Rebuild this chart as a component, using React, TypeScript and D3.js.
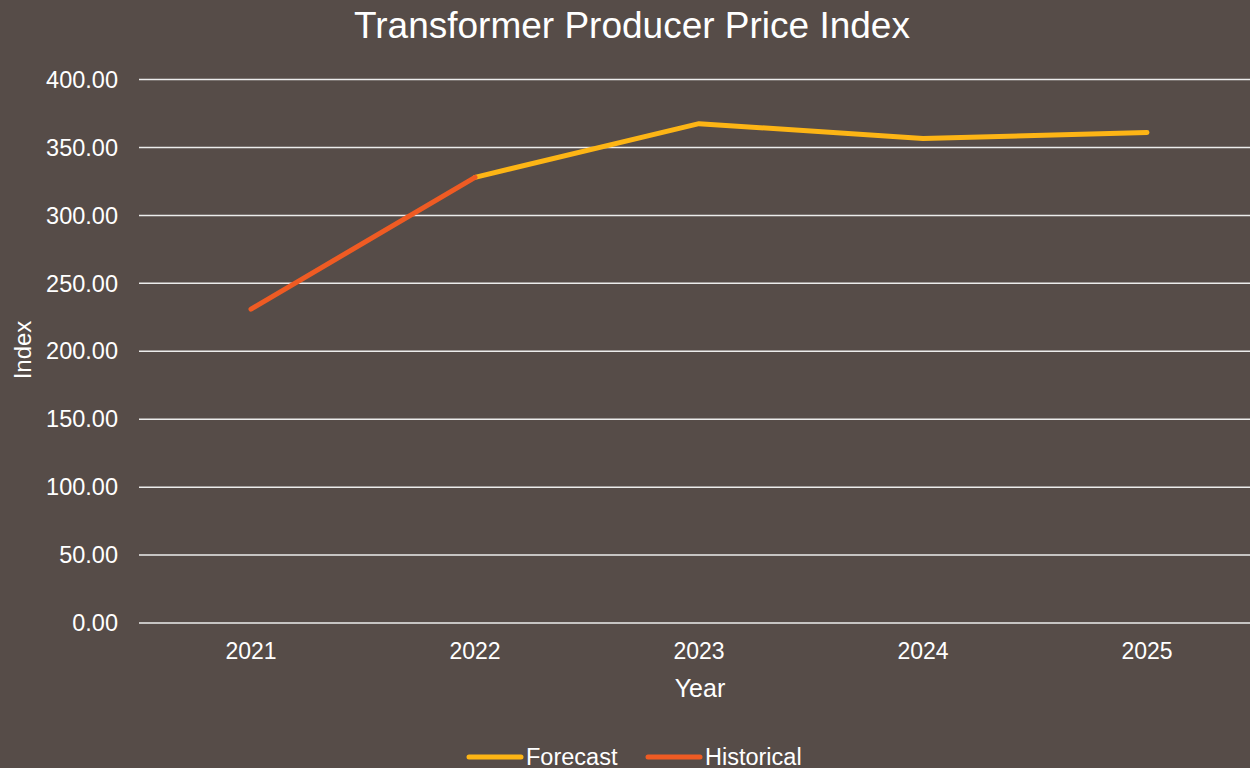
import React, { useEffect, useRef } from 'react';
import * as d3 from 'd3';

const years = ['2021', '2022', '2023', '2024', '2025'];
const historicalYears = ['2021', '2022'];
const historicalValues = [231, 328];
const forecastYears = ['2022', '2023', '2024', '2025'];
const forecastValues = [328, 367.5, 356.5, 361];
const yTicks = [0, 50, 100, 150, 200, 250, 300, 350, 400];

const width = 1250;
const height = 768;
const bg = '#564C48';
const forecastColor = '#FDB515';
const historicalColor = '#EF5B23';
const font = '"Liberation Sans", Arial, sans-serif';

function App() {
  const svgRef = useRef<SVGSVGElement>(null);

  useEffect(() => {
    if (!svgRef.current) return;
    const svg = d3.select(svgRef.current);
    svg.selectAll('*').remove();

    const x = d3.scaleBand().domain(years).range([139, 1259]);
    const y = d3.scaleLinear().domain([0, 400]).range([623, 79.5]);
    const cx = (d: string) => (x(d) as number) + x.bandwidth() / 2;

    svg.append('rect').attr('width', width).attr('height', height).attr('fill', bg);

    // title
    svg.append('text')
      .attr('x', 632).attr('y', 38)
      .attr('text-anchor', 'middle')
      .style('font', `37px ${font}`)
      .attr('fill', '#fff')
      .text('Transformer Producer Price Index');

    // gridlines + y labels
    const grid = svg.append('g');
    grid.selectAll('line')
      .data(yTicks)
      .join('line')
      .attr('x1', 139).attr('x2', width)
      .attr('y1', d => y(d)).attr('y2', d => y(d))
      .attr('stroke', '#ececec')
      .attr('stroke-width', 1.5);
    grid.selectAll('text')
      .data(yTicks)
      .join('text')
      .attr('x', 118).attr('y', d => y(d))
      .attr('dy', '0.35em')
      .attr('text-anchor', 'end')
      .style('font', `23.5px ${font}`)
      .attr('fill', '#fff')
      .text(d => d3.format('.2f')(d));

    // x labels
    svg.append('g').selectAll('text')
      .data(years)
      .join('text')
      .attr('x', d => cx(d)).attr('y', 659)
      .attr('text-anchor', 'middle')
      .style('font', `23px ${font}`)
      .attr('fill', '#fff')
      .text(d => d);

    svg.append('text')
      .attr('x', 700).attr('y', 697)
      .attr('text-anchor', 'middle')
      .style('font', `25px ${font}`)
      .attr('fill', '#fff')
      .text('Year');

    svg.append('text')
      .attr('transform', 'translate(31,350) rotate(-90)')
      .attr('text-anchor', 'middle')
      .style('font', `24px ${font}`)
      .attr('fill', '#fff')
      .text('Index');

    const line = d3.line<[string, number]>()
      .x(d => cx(d[0]))
      .y(d => y(d[1]));

    svg.append('path')
      .datum(d3.zip(forecastYears, forecastValues) as [string, number][])
      .attr('d', line)
      .attr('fill', 'none')
      .attr('stroke', forecastColor)
      .attr('stroke-width', 5)
      .attr('stroke-linecap', 'round')
      .attr('stroke-linejoin', 'round');

    svg.append('path')
      .datum(d3.zip(historicalYears, historicalValues) as [string, number][])
      .attr('d', line)
      .attr('fill', 'none')
      .attr('stroke', historicalColor)
      .attr('stroke-width', 5)
      .attr('stroke-linecap', 'round')
      .attr('stroke-linejoin', 'round');

    // legend
    const legend = [
      { name: 'Forecast', color: forecastColor, x: 467 },
      { name: 'Historical', color: historicalColor, x: 646 },
    ];
    const lg = svg.append('g').selectAll('g')
      .data(legend)
      .join('g')
      .attr('transform', d => `translate(${d.x},757)`);
    lg.append('line')
      .attr('x1', 2).attr('x2', 54)
      .attr('stroke', d => d.color)
      .attr('stroke-width', 5)
      .attr('stroke-linecap', 'round');
    lg.append('text')
      .attr('x', 59).attr('y', 8)
      .style('font', `23.5px ${font}`)
      .attr('fill', '#fff')
      .text(d => d.name);
  }, []);

  return (
    <svg
      ref={svgRef}
      width={width}
      height={height}
      style={{ position: 'fixed', top: 0, left: 0, display: 'block' }}
    />
  );
}

export default App;
